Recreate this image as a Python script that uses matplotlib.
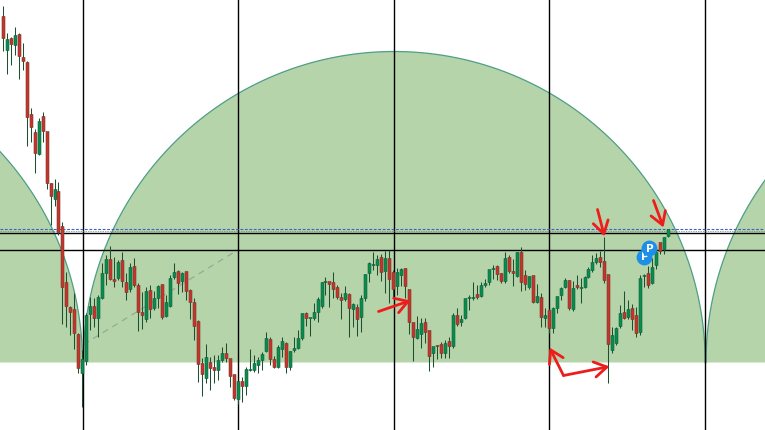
import matplotlib
matplotlib.use('Agg')
import matplotlib.pyplot as plt
import numpy as np

# candle levels, axis runs downward like the screenshot
highs = [6,33,37,27,33,43,61,108,129,118,112,132,183,179,182,222,272,306,293,333,
         350,313,297,298,295,263,255,246,257,260,252,273,263,258,283,292,287,285,291,285,
         285,295,275,263,270,272,272,289,298,320,358,344,357,355,355,347,343,359,375,381,
         377,367,349,355,357,352,332,337,356,345,337,342,351,337,330,313,312,318,303,297,
         282,277,282,272,285,293,286,293,303,304,295,274,262,252,255,254,251,250,270,268,
         268,268,290,323,316,318,318,331,347,345,342,340,337,313,308,315,299,295,282,285,
         282,279,270,265,265,273,252,255,259,252,247,270,276,276,284,293,308,309,307,297,
         287,278,280,281,275,278,276,267,255,253,251,237,275,327,327,305,291,300,304,307,
         275,274,266,258,247,242,237,230]
tops = [17,40,39,36,35,58,63,115,133,122,117,132,184,190,192,227,283,308,310,335,
        360,316,307,307,298,274,260,260,280,263,261,283,268,267,286,313,292,291,299,287,
        285,303,279,273,272,274,272,291,303,322,364,358,363,368,361,354,354,359,375,382,
        382,370,370,364,361,355,339,340,360,348,342,344,352,349,339,314,314,318,313,300,
        283,282,282,283,288,298,294,295,305,308,299,275,264,265,260,258,259,259,273,273,
        270,269,290,323,330,324,323,331,347,346,345,344,342,316,316,320,299,298,298,295,
        286,284,270,269,267,274,259,258,272,253,253,276,277,276,297,298,316,311,309,297,
        289,281,281,289,286,288,278,270,263,259,258,262,275,336,329,314,313,310,309,316,
        279,276,274,268,253,243,238,230]
bottoms = [39,51,45,46,57,62,118,128,154,155,132,184,197,200,233,288,307,313,334,369,
           374,362,315,319,319,299,274,280,282,279,282,293,290,286,313,316,320,310,309,299,
           318,317,307,278,284,282,292,303,327,365,375,379,369,371,371,361,359,377,399,400,
           387,387,371,371,366,361,352,360,368,368,350,368,368,351,349,339,319,319,319,313,
           307,283,285,290,298,301,300,309,310,320,318,299,274,266,266,273,272,280,290,287,
           276,287,323,338,339,335,333,357,354,347,354,354,347,347,325,323,319,299,299,298,
           297,286,283,270,275,282,282,272,274,277,283,285,288,303,303,318,319,329,329,309,
           296,288,309,310,288,289,288,278,271,263,263,281,345,351,344,327,319,318,320,334,
           333,277,286,284,266,252,250,237]
lows = [51,74,65,55,79,70,146,142,173,155,142,189,225,206,235,324,327,335,349,373,
        407,365,330,327,337,299,285,280,287,280,287,300,292,287,331,329,322,318,310,308,
        319,317,307,279,294,292,300,319,340,382,396,383,390,383,380,362,362,387,400,404,
        402,395,371,372,373,370,352,365,368,368,357,373,370,352,349,340,326,336,320,322,
        308,295,307,298,299,319,301,337,327,336,332,301,282,270,275,281,293,303,298,295,
        286,298,334,361,339,348,343,371,367,359,358,358,358,348,326,326,319,310,300,299,
        297,287,285,279,280,283,283,273,286,277,291,290,289,303,303,327,327,333,333,313,
        300,288,310,311,289,303,288,278,272,264,267,283,383,353,345,328,319,319,330,337,
        335,287,288,284,269,254,254,237]
colors = ('rgrgrrrrrgrrrgrrrrrr' 'gggrgggrrgrrgrrrgrgg' 'rgggrgrrrrrgrrggrrrg'
          'rggggggrrggrggggrggg' 'ggrrrrgrgrgggggrgrrg' 'grrrggrrgrrgrgrggggr'
          'ggggrrgrrgrrgrgrgrgg' 'ggrgrgggggrrrgggrgrr' 'ggrggrgg')

vlines_x = [83, 238, 394, 549, 705]
hlines_y = [233.5, 250]
level_y = [229.5, 231]
arc_centers = [-229, 393.7, 1016.5]
arc_base = 363
arc_radius = 311
trend_x = [83, 238]
trend_y = [345, 250]
simple_arrows = [((378, 312), (410, 301)), ((597, 210), (604, 237)), ((653, 201), (663, 228)),
                 ((563, 376), (549, 348)), ((563, 376), (609, 367))]
badge_x = [644, 649]
badge_y = [257, 248]

n = len(highs)
x = np.round(2.7 + 3.985 * np.arange(n))

fig = plt.figure(figsize=(7.65, 4.31), dpi=100)
ax = fig.add_axes([0, 0, 1, 1])
ax.set_xlim(-0.5, 764.5)
ax.set_ylim(430.5, -0.5)
ax.axis('off')

t = np.linspace(np.pi, 2 * np.pi, 400)
for c in arc_centers:
    ax_x = c + arc_radius * np.cos(t)
    ax_y = arc_base + arc_radius * np.sin(t)
    ax.fill(ax_x, ax_y, color='#b5d4a9', lw=0, zorder=1)
    ax.plot(ax_x, ax_y, color='#4f9e86', lw=0.9, zorder=1.5)

ax.plot(trend_x, trend_y, color='#9aa896', lw=0.9, ls=(0, (5, 4)), zorder=2)
for v in vlines_x:
    ax.axvline(v, color='black', lw=1.0, zorder=2)
for h in hlines_y:
    ax.axhline(h, color='black', lw=1.0, zorder=2)
ax.axhline(level_y[0], color='#3a62c4', lw=0.8, ls=(0, (2.5, 1.5)), zorder=2)
ax.axhline(level_y[1], color='#6a7f8a', lw=0.5, ls=(0, (2, 1.5)), zorder=2)

ax.vlines(x, highs, lows, color='#1f4f33', lw=0.75, zorder=3)
face = ['#c8342c' if c == 'r' else '#0b8c4f' for c in colors]
edge = ['#6e3a2a' if c == 'r' else '#0f5f3c' for c in colors]
heights = np.maximum(np.array(bottoms) - np.array(tops), 1)
bars = ax.bar(x, heights, bottom=tops, width=3, color=face, edgecolor=edge, lw=0.4, zorder=4)
for b in bars:
    b.set_snap(False)

ax.scatter(badge_x[0], badge_y[0], s=130, color='#1e8fe6', lw=0, zorder=5)
ax.text(badge_x[0], badge_y[0], 'P', color='white', fontsize=7.5, fontweight='bold',
        ha='center', va='center', zorder=5)
ax.scatter(badge_x[1], badge_y[1], s=130, color='#1e8fe6', lw=0, zorder=6)
ax.text(badge_x[1], badge_y[1], 'P', color='white', fontsize=7.5, fontweight='bold',
        ha='center', va='center', zorder=6)

for start, end in simple_arrows:
    ax.annotate('', xy=end, xytext=start, zorder=7,
                arrowprops=dict(arrowstyle='->,head_length=0.9,head_width=0.55', color='#ee1c1c',
                                lw=2.0, mutation_scale=10, shrinkA=0, shrinkB=0))

fig.savefig('out.png', dpi=100)
